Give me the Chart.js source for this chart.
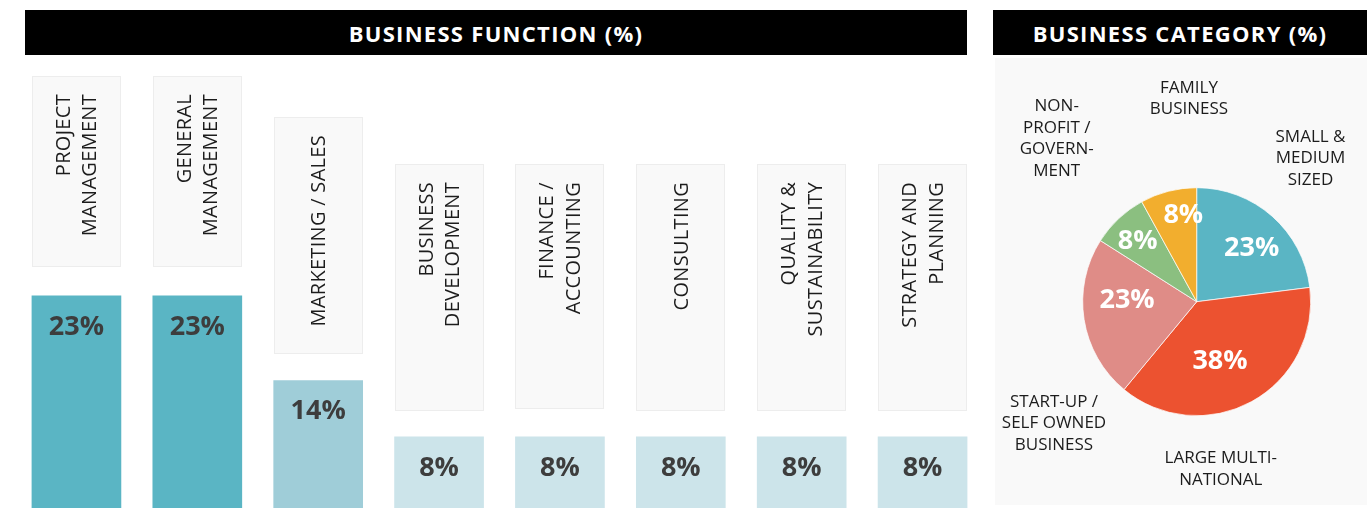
<!DOCTYPE html>
<html>
<head>
<meta charset="utf-8">
<script src="https://cdn.jsdelivr.net/npm/chart.js@4.4.0/dist/chart.umd.min.js"></script>
<style>
  html, body { margin:0; padding:0; background:#fff; width:1370px; height:508px; overflow:hidden; position:relative; }
  .hdr { position:absolute; top:10px; height:45px; background:#000; color:#fff;
         font:700 22px 'Open Sans', sans-serif; letter-spacing:1.3px;
         display:flex; align-items:center; justify-content:center; }
  #panel { position:absolute; left:995px; top:58px; width:372px; height:447px; background:#f9f9f9; }
  canvas { position:absolute; }
</style>
</head>
<body>
<div class="hdr" style="left:25px;width:942px;">BUSINESS FUNCTION (%)</div>
<div class="hdr" style="left:993px;width:374px;">BUSINESS CATEGORY (%)</div>
<div id="panel"></div>
<canvas id="bars" width="990" height="512" style="left:0;top:0;width:990px;height:512px;"></canvas>
<canvas id="pie" width="374" height="450" style="left:993px;top:58px;width:374px;height:450px;"></canvas>

<script>
// ---------- DATA ----------
const functionLabels = [
  ['PROJECT', 'MANAGEMENT'],
  ['GENERAL', 'MANAGEMENT'],
  ['MARKETING / SALES'],
  ['BUSINESS', 'DEVELOPMENT'],
  ['FINANCE /', 'ACCOUNTING'],
  ['CONSULTING'],
  ['QUALITY &', 'SUSTAINABILITY'],
  ['STRATEGY AND', 'PLANNING']
];
const functionValues = [23, 23, 14, 8, 8, 8, 8, 8];

const categoryLabels = [
  ['SMALL &', 'MEDIUM', 'SIZED'],
  ['LARGE MULTI-', 'NATIONAL'],
  ['START-UP /', 'SELF OWNED', 'BUSINESS'],
  ['NON-', 'PROFIT /', 'GOVERN-', 'MENT'],
  ['FAMILY', 'BUSINESS']
];
const categoryValues = [23, 38, 23, 8, 8];

// ---------- STYLES ----------
const barColorFor = v => v >= 20 ? '#5ab5c4' : (v >= 12 ? '#9fcdd8' : '#cce4ea');
const pieColors = ['#5ab5c4', '#ec5230', '#df8c87', '#8bbf80', '#f2ae2e'];

// label boxes above bars (style/layout only)
const labelBoxPlugin = {
  id: 'labelBoxes',
  afterDatasetsDraw(chart, args, opts) {
    const ctx = chart.ctx;
    const meta = chart.getDatasetMeta(0);
    const labels = chart.data.labels;
    const values = chart.data.datasets[0].data;
    meta.data.forEach((bar, i) => {
      const w = bar.width;
      const left = Math.round(bar.x - w / 2);
      const bottom = Math.round(bar.y - opts.gaps[i]);
      const top = bottom - opts.heights[i];
      ctx.save();
      ctx.fillStyle = '#f9f9f9';
      ctx.fillRect(left, top, w, bottom - top);
      ctx.strokeStyle = '#ededed';
      ctx.lineWidth = 1;
      ctx.strokeRect(left + 0.5, top + 0.5, w - 1, bottom - top - 1);
      // rotated category text
      ctx.translate(bar.x, top + 18);
      ctx.rotate(-Math.PI / 2);
      ctx.fillStyle = '#1c1c1c';
      ctx.font = '400 20px "Open Sans", sans-serif';
      ctx.letterSpacing = '0.3px';
      ctx.textAlign = 'right';
      ctx.textBaseline = 'middle';
      const lines = labels[i];
      const lh = 26.5;
      lines.forEach((ln, k) => {
        ctx.fillText(ln, 0, (k - (lines.length - 1) / 2) * lh + 1);
      });
      ctx.restore();
      // value label inside bar
      ctx.save();
      ctx.fillStyle = '#3d3d3d';
      ctx.font = '700 27px "Open Sans", sans-serif';
      ctx.textAlign = 'center';
      ctx.textBaseline = 'middle';
      ctx.fillText(values[i] + '%', bar.x, bar.y + 31);
      ctx.restore();
    });
  }
};

new Chart(document.getElementById('bars'), {
  type: 'bar',
  data: {
    labels: functionLabels,
    datasets: [{
      data: functionValues,
      backgroundColor: functionValues.map(barColorFor),
      borderWidth: 0,
      barThickness: 89
    }]
  },
  options: {
    responsive: false,
    animation: false,
    layout: { padding: { left: 16, right: 7, top: 0, bottom: 0 } },
    scales: {
      x: { display: false, offset: true },
      y: { display: false, min: 0, max: 54.5 }
    },
    plugins: {
      legend: { display: false },
      tooltip: { enabled: false },
      labelBoxes: {
        gaps:    [29, 29, 26.5, 25.5, 27.5, 25.5, 25.5, 25.5],
        heights: [191, 191, 237, 247, 245, 247, 247, 247]
      }
    }
  },
  plugins: [labelBoxPlugin]
});

const pieLabelPlugin = {
  id: 'pieLabels',
  afterDatasetsDraw(chart, args, opts) {
    const ctx = chart.ctx;
    const meta = chart.getDatasetMeta(0);
    const values = chart.data.datasets[0].data;
    const labels = chart.data.labels;
    meta.data.forEach((arc, i) => {
      const mid = (arc.startAngle + arc.endAngle) / 2 + opts.angleNudge[i] * Math.PI / 180;
      const r = arc.outerRadius * opts.radius[i];
      ctx.save();
      ctx.fillStyle = '#ffffff';
      ctx.font = '700 27px "Open Sans", sans-serif';
      ctx.textAlign = 'center';
      ctx.textBaseline = 'middle';
      ctx.fillText(values[i] + '%', arc.x + Math.cos(mid) * r, arc.y + Math.sin(mid) * r);
      ctx.restore();
      // outer label
      const [dx, dy] = opts.outer[i];
      ctx.save();
      ctx.fillStyle = '#1c1c1c';
      ctx.font = '400 17px "Open Sans", sans-serif';
      ctx.textAlign = 'center';
      ctx.textBaseline = 'middle';
      labels[i].forEach((ln, k) => {
        ctx.fillText(ln, arc.x + dx, arc.y + dy + k * 21.8 + 1);
      });
      ctx.restore();
    });
  }
};

new Chart(document.getElementById('pie'), {
  type: 'pie',
  data: {
    labels: categoryLabels,
    datasets: [{
      data: categoryValues,
      backgroundColor: pieColors,
      borderColor: 'rgba(255,255,255,0.7)',
      borderWidth: 1,
      hoverOffset: 0
    }]
  },
  options: {
    responsive: false,
    animation: false,
    layout: { padding: { left: 89.2, right: 55.8, top: 129.2, bottom: 91.8 } },
    plugins: {
      legend: { display: false },
      tooltip: { enabled: false },
      pieLabels: {
        angleNudge: [4.4, 7.6, 10.4, -1.3, 5.6],
        radius: [0.673, 0.565, 0.611, 0.738, 0.769],
        outer: [[113.8, -165.9], [24.1, 155.8], [-142.7, 99.1], [-140, -196.7], [-7.7, -215]]
      }
    }
  },
  plugins: [pieLabelPlugin]
});
</script>
</body>
</html>
